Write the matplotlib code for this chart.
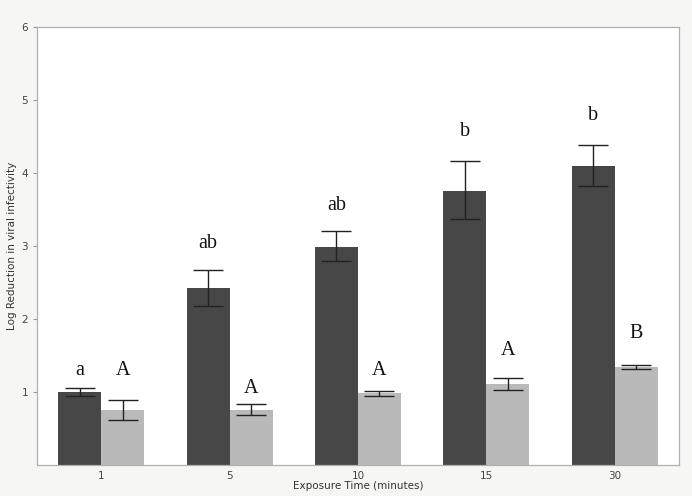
import numpy as np
import matplotlib.pyplot as plt

# exposure times (minutes)
times = ['1', '5', '10', '15', '30']

# log reduction, dark series and light series
dark_vals = [1.00, 2.42, 2.99, 3.76, 4.10]
dark_err_lo = [0.05, 0.24, 0.19, 0.39, 0.28]
dark_err_hi = [0.06, 0.25, 0.21, 0.40, 0.29]

light_vals = [0.75, 0.76, 0.98, 1.11, 1.34]
light_err_lo = [0.13, 0.07, 0.03, 0.08, 0.02]
light_err_hi = [0.14, 0.08, 0.03, 0.08, 0.03]

# significance letters and their heights
dark_letters = ['a', 'ab', 'ab', 'b', 'b']
dark_letter_y = [1.29, 3.04, 3.55, 4.57, 4.79]
light_letters = ['A', 'A', 'A', 'A', 'B']
light_letter_y = [1.30, 1.05, 1.30, 1.57, 1.80]

x = np.arange(len(times))
w = 0.335

fig = plt.figure(figsize=(6.92, 4.96), dpi=100, facecolor='#f6f6f4')
ax = fig.add_axes([0.0535, 0.0625, 0.9275, 0.883])

ax.bar(x - w / 2, dark_vals, w, color='#474747',
       yerr=[dark_err_lo, dark_err_hi], capsize=11,
       error_kw=dict(ecolor='#222222', elinewidth=1.0, capthick=1.0))
ax.bar(x + w / 2, light_vals, w, color='#b9b9b9',
       yerr=[light_err_lo, light_err_hi], capsize=11,
       error_kw=dict(ecolor='#222222', elinewidth=1.0, capthick=1.0))

for i in range(len(times)):
    ax.text(x[i] - w / 2, dark_letter_y[i], dark_letters[i], ha='center', va='center',
            fontsize=14.5, family='Liberation Serif', color='#111111')
    ax.text(x[i] + w / 2, light_letter_y[i], light_letters[i], ha='center', va='center',
            fontsize=14.5, family='Liberation Serif', color='#111111')

ax.set_xlim(-0.5, len(times) - 0.5)
ax.set_ylim(0, 6)
ax.set_xticks(x)
ax.set_xticklabels(times)
ax.set_yticks([1, 2, 3, 4, 5, 6])
ax.tick_params(axis='both', labelsize=7.5, colors='#999999', labelcolor='#444444', length=3, width=0.8)
ax.tick_params(axis='x', length=0, pad=4)

for s in ax.spines.values():
    s.set_color('#b0b0b0')
    s.set_linewidth(0.9)

ax.set_xlabel('Exposure Time (minutes)', fontsize=7.5, color='#333333', labelpad=0)
ax.set_ylabel('Log Reduction in viral infectivity', fontsize=7.5, color='#333333', labelpad=3)

fig.savefig('out.png', dpi=100, facecolor=fig.get_facecolor())
